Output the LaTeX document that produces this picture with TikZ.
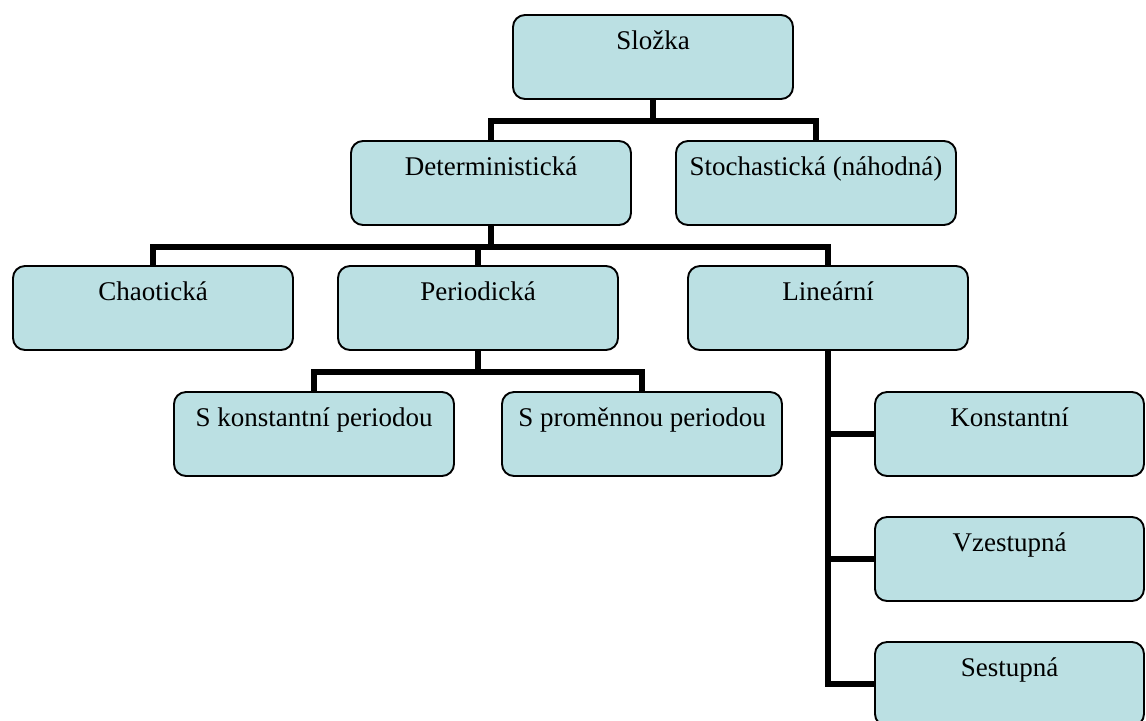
\documentclass[tikz,border=0pt]{standalone}
\usepackage{fontspec}
\setmainfont{Liberation Serif}
\usepackage{xcolor}
\definecolor{boxfill}{RGB}{187,224,227}

\begin{document}
\begin{tikzpicture}[x=0.5pt, y=-0.5pt,
		box/.style={draw, fill=boxfill, line width=0.95pt, rounded corners=6pt,
			minimum width=140pt, inner xsep=2pt, inner ysep=0pt,
			text height=17pt, text depth=25pt, font=\fontsize{13.5}{16}\selectfont},
		sidebox/.style={box, minimum width=134.5pt},
		conn/.style={line width=2.8pt}]
					\def\rowA{57};
					\def\rowB{183};
					\def\rowC{308};
					\def\rowD{434};
					\def\gap{21};

					\useasboundingbox (0,0) rectangle (1146,720);

					\begin{scope}
						\node[box] (slozka) at (653,\rowA) {Složka};
						\node[box] (determ) at (491,\rowB) {Deterministická};
						\node[box] (stoch) at (816,\rowB) {Stochastická (náhodná)};
						\node[box] (chaot) at (153,\rowC) {Chaotická};
						\node[box] (period) at (478,\rowC) {Periodická};
						\node[box] (linear) at (828,\rowC) {Lineární};
						\node[box] (skonst) at (314,\rowD) {S konstantní periodou};
						\node[box] (sprom) at (642,\rowD) {S proměnnou periodou};
					\end{scope}

					\begin{scope}
						\node[sidebox] (konst) at (1009.5,\rowD) {Konstantní};
						\node[sidebox] (vzest) at (1009.5,559) {Vzestupná};
						\node[sidebox] (sestup) at (1009.5,684) {Sestupná};
					\end{scope}

					\begin{scope}[conn]
						\draw (slozka.south) -- ++(0,\gap) -| (determ.north);
						\draw (slozka.south) -- ++(0,\gap) -| (stoch.north);
						\draw (determ.south) -- ++(0,\gap) -| (chaot.north);
						\draw (determ.south) -- ++(0,\gap) -| (period.north);
						\draw (determ.south) -- ++(0,\gap) -| (linear.north);
						\draw (period.south) -- ++(0,\gap) -| (skonst.north);
						\draw (period.south) -- ++(0,\gap) -| (sprom.north);
						\draw (linear.south) |- (konst.west);
						\draw (linear.south) |- (vzest.west);
						\draw (linear.south) |- (sestup.west);
					\end{scope}
				\end{tikzpicture}
\end{document}
